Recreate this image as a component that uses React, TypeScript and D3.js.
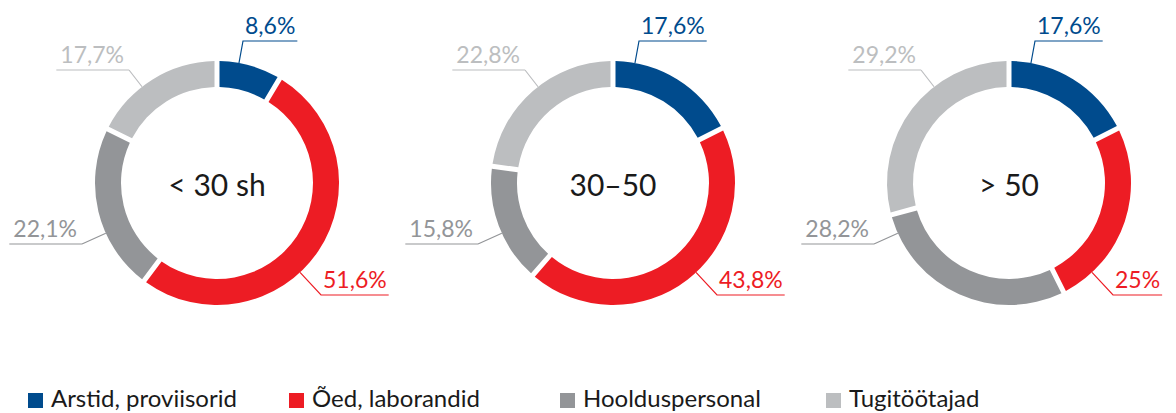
import React, { useEffect, useRef } from "react";
import * as d3 from "d3";

const groups = ["< 30 sh", "30–50", "> 50"];
const categories = ["Arstid, proviisorid", "Õed, laborandid", "Hoolduspersonal", "Tugitöötajad"];
const valuesUnder30 = [8.6, 51.6, 22.1, 17.7];
const values30to50 = [17.6, 43.8, 15.8, 22.8];
const valuesOver50 = [17.6, 25, 28.2, 29.2];
const seriesByGroup = [valuesUnder30, values30to50, valuesOver50];

const colors = ["#004b8d", "#ed1c24", "#939598", "#bcbec0"];
// label elbow offsets relative to donut center, per category
const labelLayout = [
  { side: "right", dx: 26, dy: -142 },
  { side: "right", dx: 104, dy: 112 },
  { side: "left", dx: -135, dy: 61 },
  { side: "left", dx: -88, dy: -113 },
];
const legendX = [28, 289, 560, 826];

const W = 1176;
const H = 413;
const FONT = "Lato, 'Open Sans', sans-serif";

function fmt(v: number) {
  const s = Number.isInteger(v) ? String(v) : v.toFixed(1).replace(".", ",");
  return s + "%";
}

export default function App() {
  const ref = useRef<SVGSVGElement | null>(null);

  useEffect(() => {
    const svg = d3.select(ref.current);
    svg.selectAll("*").remove();

    const x = d3.scaleBand<string>().domain(groups).range([19, 1207]);
    const cy = 183;
    const R = 122;
    const r = 96;
    const gap = 5;

    const pie = d3.pie<number>().sort(null).value((d) => d);
    const arc = d3
      .arc<d3.PieArcDatum<number>>()
      .innerRadius(r)
      .outerRadius(R)
      .padAngle(gap / R)
      .padRadius(R);

    groups.forEach((g, gi) => {
      const cx = (x(g) as number) + x.bandwidth() / 2;
      const gEl = svg.append("g").attr("transform", `translate(${cx},${cy})`);
      const arcs = pie(seriesByGroup[gi]);

      gEl
        .selectAll("path.slice")
        .data(arcs)
        .enter()
        .append("path")
        .attr("class", "slice")
        .attr("d", arc as any)
        .attr("fill", (_d, i) => colors[i]);

      gEl
        .append("text")
        .attr("x", 0)
        .attr("y", 13)
        .attr("text-anchor", "middle")
        .attr("font-family", FONT)
        .attr("font-size", 30)
        .attr("fill", "#1a1a1a")
        .text(g);

      arcs.forEach((a, i) => {
        const lay = labelLayout[i];
        let ang = Math.atan2(lay.dx, -lay.dy);
        if (ang < 0) ang += Math.PI * 2;
        const m = 0.02;
        ang = Math.max(a.startAngle + m, Math.min(a.endAngle - m, ang));
        const ax = R * Math.sin(ang);
        const ay = -R * Math.cos(ang);
        const col = colors[i];
        const t = gEl
          .append("text")
          .attr("font-family", FONT)
          .attr("font-size", 23)
          .attr("fill", col)
          .attr("y", lay.dy - 7.5)
          .text(fmt(a.data));
        const tw = (t.node() as SVGTextElement).getComputedTextLength();
        let x1: number, x2: number;
        if (lay.side === "right") {
          t.attr("x", lay.dx + 2);
          x1 = lay.dx;
          x2 = lay.dx + 2 + tw + 2;
        } else {
          t.attr("x", lay.dx - 5).attr("text-anchor", "end");
          x1 = lay.dx - 5 - tw - 4;
          x2 = lay.dx;
        }
        const elbowX = lay.side === "right" ? x1 : x2;
        gEl
          .append("path")
          .attr("d", `M${ax},${ay}L${elbowX},${lay.dy}` + (lay.side === "right" ? `L${x2},${lay.dy}` : `M${x2},${lay.dy}L${x1},${lay.dy}`))
          .attr("fill", "none")
          .attr("stroke", col)
          .attr("stroke-width", 1.2);
      });
    });

    const leg = svg.append("g");
    categories.forEach((c, i) => {
      leg
        .append("rect")
        .attr("x", legendX[i])
        .attr("y", 393)
        .attr("width", 15)
        .attr("height", 15)
        .attr("fill", colors[i]);
      leg
        .append("text")
        .attr("x", legendX[i] + 23)
        .attr("y", 407)
        .attr("font-family", FONT)
        .attr("font-size", 24)
        .attr("fill", "#1a1a1a")
        .text(c);
    });
  }, []);

  return (
    <svg
      ref={ref}
      width={W}
      height={H}
      style={{ position: "absolute", left: 0, top: 0, background: "#fff" }}
    />
  );
}
